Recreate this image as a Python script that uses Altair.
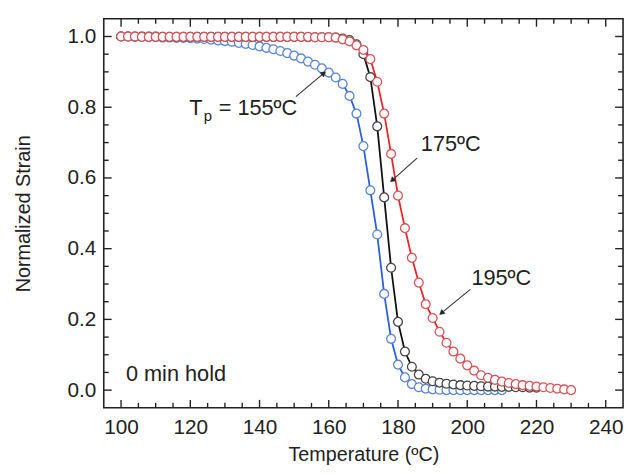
import math
import altair as alt
import pandas as pd

# ---------------- data ----------------
temps_155 = [100, 102, 104, 106, 108, 110, 112, 114, 116, 118, 120, 122, 124, 126, 128, 130,
             132, 134, 136, 138, 140, 142, 144, 146, 148, 150, 152, 154, 156, 158, 160, 162,
             164, 166, 168, 170, 172, 174, 176, 178, 180, 182, 184, 186, 188, 190, 192, 194,
             196, 198, 200, 202, 204, 206, 208, 210]
strain_155 = [1.0, 1.0, 0.999, 0.999, 0.998, 0.998, 0.997, 0.997, 0.996, 0.996, 0.995, 0.994,
              0.993, 0.991, 0.989, 0.987, 0.985, 0.982, 0.979, 0.976, 0.972, 0.968, 0.964, 0.959,
              0.953, 0.946, 0.938, 0.929, 0.920, 0.910, 0.898, 0.884, 0.866, 0.832, 0.782, 0.690,
              0.565, 0.440, 0.272, 0.145, 0.072, 0.036, 0.017, 0.008, 0.004, 0.002, 0.001, 0.0,
              0.0, 0.0, 0.0, 0.0, 0.0, 0.0, 0.0, 0.0]

temps_175 = [100, 102, 104, 106, 108, 110, 112, 114, 116, 118, 120, 122, 124, 126, 128, 130,
             132, 134, 136, 138, 140, 142, 144, 146, 148, 150, 152, 154, 156, 158, 160, 162,
             164, 166, 168, 170, 172, 174, 176, 178, 180, 182, 184, 186, 188, 190, 192, 194,
             196, 198, 200, 202, 204, 206, 208, 210, 212, 214, 216, 218, 220]
strain_175 = [1.0, 1.0, 1.0, 1.0, 1.0, 1.0, 0.999, 0.999, 0.999, 0.999, 0.999, 0.999, 0.999,
              0.999, 0.999, 0.999, 0.999, 0.999, 0.999, 0.999, 0.999, 0.999, 0.999, 0.999,
              0.999, 0.999, 0.999, 0.998, 0.998, 0.998, 0.998, 0.997, 0.994, 0.990, 0.978,
              0.950, 0.885, 0.746, 0.545, 0.346, 0.193, 0.109, 0.066, 0.044, 0.032, 0.025,
              0.021, 0.018, 0.016, 0.014, 0.013, 0.012, 0.011, 0.010, 0.010, 0.009, 0.009,
              0.008, 0.008, 0.007, 0.007]

temps_195 = [100, 102, 104, 106, 108, 110, 112, 114, 116, 118, 120, 122, 124, 126, 128, 130,
             132, 134, 136, 138, 140, 142, 144, 146, 148, 150, 152, 154, 156, 158, 160, 162,
             164, 166, 168, 170, 172, 174, 176, 178, 180, 182, 184, 186, 188, 190, 192, 194,
             196, 198, 200, 202, 204, 206, 208, 210, 212, 214, 216, 218, 220, 222, 224, 226,
             228, 230]
strain_195 = [1.0, 1.0, 1.0, 0.999, 0.999, 0.999, 0.999, 0.999, 0.999, 0.999, 0.999, 0.999,
              0.999, 0.999, 0.999, 0.999, 0.999, 0.999, 0.999, 0.999, 0.999, 0.999, 0.999,
              0.999, 0.999, 0.999, 0.999, 0.999, 0.998, 0.998, 0.998, 0.997, 0.992, 0.986,
              0.975, 0.962, 0.936, 0.872, 0.782, 0.668, 0.550, 0.458, 0.374, 0.304, 0.243,
              0.204, 0.165, 0.134, 0.109, 0.089, 0.070, 0.055, 0.042, 0.035, 0.029, 0.024,
              0.020, 0.017, 0.014, 0.012, 0.010, 0.008, 0.006, 0.004, 0.002, 0.0]

x_tick_labels = [100, 120, 140, 160, 180, 200, 220, 240]
y_tick_labels = [0.0, 0.2, 0.4, 0.6, 0.8, 1.0]
x_minor = [105, 110, 115, 125, 130, 135, 145, 150, 155, 165, 170, 175, 185, 190, 195,
           205, 210, 215, 225, 230, 235]
y_minor = [0.05, 0.1, 0.15, 0.25, 0.3, 0.35, 0.45, 0.5, 0.55, 0.65, 0.7, 0.75, 0.85, 0.9, 0.95]

# ---------------- layout ----------------
W, H = 526, 394
XMIN, XMAX = 95, 245
YMIN, YMAX = -0.05, 1.05
FONT = "Liberation Sans"
INK = "#222222"

xscale = alt.Scale(domain=[XMIN, XMAX], nice=False, zero=False)
yscale = alt.Scale(domain=[YMIN, YMAX], nice=False, zero=False)

x_axis = alt.Axis(
    values=x_tick_labels, format="d", tickSize=0, domain=False, grid=False,
    labelFont=FONT, labelFontSize=21, labelColor=INK, labelPadding=9,
    title="Temperature (ºC)", titleFont=FONT, titleFontSize=20, titleFontWeight="normal",
    titleColor=INK, titlePadding=7)
y_axis = alt.Axis(
    values=y_tick_labels, format=".1f", tickSize=0, domain=False, grid=False,
    labelFont=FONT, labelFontSize=21, labelColor=INK, labelPadding=8,
    title="Normalized Strain", titleFont=FONT, titleFontSize=20, titleFontWeight="normal",
    titleColor=INK, titlePadding=34)


def X(field):
    return alt.X(field, scale=xscale, axis=x_axis)


def Y(field):
    return alt.Y(field, scale=yscale, axis=y_axis)


def series(temps, vals, line_color, pt_color):
    df = pd.DataFrame({"T": temps, "S": vals})
    base = alt.Chart(df).encode(x=X("T:Q"), y=Y("S:Q"))
    line = base.mark_line(color=line_color, strokeWidth=1.8)
    pts = base.mark_point(shape="circle", filled=True, size=80, fill="white", opacity=1,
                          stroke=pt_color, strokeWidth=1.3)
    return [line, pts]


def xticks(vals, length):
    df = pd.DataFrame({"v": vals})
    bot = alt.Chart(df).mark_rule(color=INK, strokeWidth=1.4).encode(
        x=X("v:Q"), y=alt.value(H), y2=alt.value(H - length))
    top = alt.Chart(df).mark_rule(color=INK, strokeWidth=1.4).encode(
        x=X("v:Q"), y=alt.value(0), y2=alt.value(length))
    return [bot, top]


def yticks(vals, length):
    df = pd.DataFrame({"v": vals})
    left = alt.Chart(df).mark_rule(color=INK, strokeWidth=1.4).encode(
        y=Y("v:Q"), x=alt.value(0), x2=alt.value(length))
    right = alt.Chart(df).mark_rule(color=INK, strokeWidth=1.4).encode(
        y=Y("v:Q"), x=alt.value(W), x2=alt.value(W - length))
    return [left, right]


# ---------------- annotations ----------------
labels_df = pd.DataFrame({
    "txt": ["T", "= 155ºC", "175ºC", "195ºC", "0 min hold"],
    "T": [119.7, 128.2, 186.6, 201.2, 101.4],
    "S": [0.779, 0.779, 0.676, 0.296, 0.025],
})
labels = alt.Chart(labels_df).mark_text(
    font=FONT, fontSize=22, align="left", baseline="alphabetic", color=INK).encode(
    x=X("T:Q"), y=Y("S:Q"), text="txt:N")

sub_df = pd.DataFrame({"txt": ["p"], "T": [123.9], "S": [0.761]})
sub = alt.Chart(sub_df).mark_text(
    font=FONT, fontSize=15, align="left", baseline="alphabetic", color=INK).encode(
    x=X("T:Q"), y=Y("S:Q"), text="txt:N")

arrow_x1 = [150.5, 185.5, 200.9]
arrow_y1 = [0.830, 0.656, 0.285]
arrow_x2 = [159.3, 177.6, 191.8]
arrow_y2 = [0.902, 0.587, 0.212]

kx = W / (XMAX - XMIN)
ky = H / (YMAX - YMIN)
HEAD = 7.0  # arrowhead length in px
hx, hy, ang, lx, ly = [], [], [], [], []
for x1, y1, x2, y2 in zip(arrow_x1, arrow_y1, arrow_x2, arrow_y2):
    dxp = (x2 - x1) * kx
    dyp = -(y2 - y1) * ky
    L = math.hypot(dxp, dyp)
    ux, uy = dxp / L, dyp / L
    ang.append(math.degrees(math.atan2(ux, -uy)) % 360)
    d = HEAD * 0.5
    hx.append(x2 - ux * d / kx)
    hy.append(y2 + uy * d / ky)
    lx.append(x2 - ux * HEAD * 0.8 / kx)
    ly.append(y2 + uy * HEAD * 0.8 / ky)

arrow_df = pd.DataFrame({"x1": arrow_x1, "y1": arrow_y1, "x2": lx, "y2": ly,
                         "hx": hx, "hy": hy, "ang": ang})
arrow_lines = alt.Chart(arrow_df).mark_rule(color="#333333", strokeWidth=1.1).encode(
    x=X("x1:Q"), y=Y("y1:Q"), x2="x2:Q", y2="y2:Q")
arrow_heads = alt.Chart(arrow_df).mark_point(
    shape="triangle-up", filled=True, fill="#222222", stroke="#222222", strokeWidth=0.5,
    opacity=1, size=30).encode(
    x=X("hx:Q"), y=Y("hy:Q"), angle=alt.Angle("ang:Q", scale=None))

layers = []
layers += series(temps_155, strain_155, "#2b60d6", "#5a84d2")
layers += series(temps_175, strain_175, "#111111", "#444444")
layers += series(temps_195, strain_195, "#e5262b", "#d6545a")
layers += xticks(x_tick_labels, 8) + xticks(x_minor, 5)
layers += yticks(y_tick_labels, 8) + yticks(y_minor, 5)
layers += [labels, sub, arrow_lines, arrow_heads]

chart = alt.layer(*layers).properties(
    width=W, height=H,
    autosize=alt.AutoSizeParams(type="none"),
    padding={"left": 97, "top": 8, "right": 3, "bottom": 56},
    background="white",
).configure_view(stroke=INK, strokeWidth=1.6)

chart.save("out.html", embed_options={"renderer": "svg", "actions": False})
